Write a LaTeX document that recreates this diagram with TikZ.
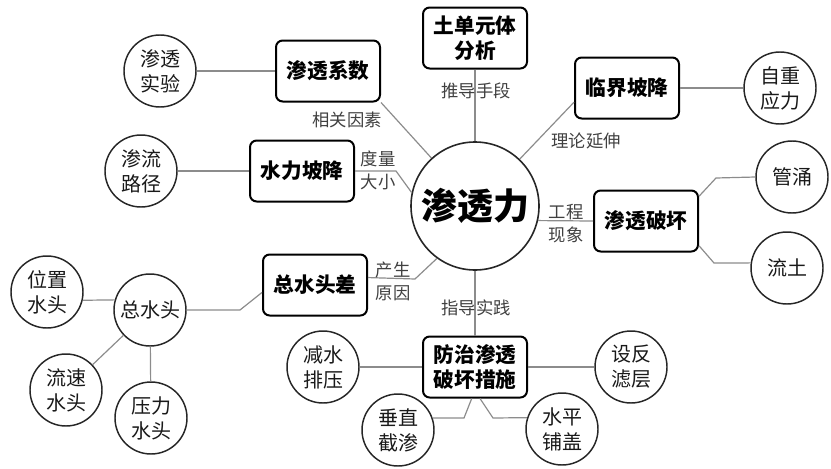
\documentclass[tikz,border=0pt]{standalone}
\usepackage{fontspec}
\setmainfont{Noto Sans CJK SC}
\begin{document}
\begin{tikzpicture}
  [x=0.75pt, y=-0.75pt,
   main node/.style={circle,draw=black!85,line width=1.2pt,minimum size=96pt,inner sep=0pt,font=\fontsize{27}{30}\selectfont\bfseries},
   box node/.style={rectangle,rounded corners=5pt,draw=black,line width=1.5pt,minimum width=78pt,minimum height=45.75pt,inner sep=0pt,align=center,font=\fontsize{15.5}{18.75}\selectfont\bfseries},
   leaf node/.style={circle,draw=black!85,line width=1.1pt,minimum size=54pt,inner sep=0pt,align=center,text=black!90,font=\fontsize{15}{18.75}\selectfont},
   link/.style={draw=black!45,line width=0.9pt},
   tag/.style={inner sep=0pt,align=center,text=black!75,font=\fontsize{13}{17.25}\selectfont}]
  \useasboundingbox (0,0) rectangle (831,468);

  % centre
  \node[main node] (stl) at (475,206) {渗透力};

  % first ring
  \node[box node] (tf) at (475,38) {土单元体\\分析};
  \node[box node] (xs) at (328,71) {渗透系数};
  \node[box node] (sl) at (302,171) {水力坡降};
  \node[box node] (lj) at (627,88) {临界坡降};
  \node[box node] (pf) at (646,221) {渗透破坏};
  \node[box node] (ct) at (315,285) {总水头差};
  \node[box node] (fz) at (475,367) {防治渗透\\破坏措施};

  % leaves
  \node[leaf node] (sy) at (160,71) {渗透\\实验};
  \node[leaf node] (lu) at (141,171) {渗流\\路径};
  \node[leaf node] (zz) at (780,88) {自重\\应力};
  \node[leaf node] (gy) at (792,177) {管涌};
  \node[leaf node] (lt) at (787,268) {流土};
  \node[leaf node] (zs) at (150,310) {总水头};
  \node[leaf node] (wz) at (47,292) {位置\\水头};
  \node[leaf node] (ls) at (66,390) {流速\\水头};
  \node[leaf node] (yl) at (151,418) {压力\\水头};
  \node[leaf node] (jp) at (323,367) {减水\\排压};
  \node[leaf node] (cz) at (398,430) {垂直\\截渗};
  \node[leaf node] (fl) at (631,367) {设反\\滤层};
  \node[leaf node] (pg) at (562,429) {水平\\铺盖};

  % bends
  \coordinate (k1) at (396,171);
  \coordinate (k2) at (716,178);
  \coordinate (k3) at (714,263);
  \coordinate (k4) at (415,279);
  \coordinate (k5) at (240,310);
  \coordinate (k6) at (464,418);
  \coordinate (k7) at (493,418);

  % straight links
  \path[] (sy) [link] edge (xs);
  \path[] (xs.south east) [link] edge (stl);
  \path[] (lu) [link] edge (sl);
  \path[] (tf) [link] edge (stl);
  \path[] (lj.195) [link] edge (stl);
  \path[] (lj) [link] edge (zz);
  \path[] (pf.west) [link] edge (stl.-13.5);
  \path[] (stl) [link] edge (fz);
  \path[] (jp) [link] edge (fz);
  \path[] (fz) [link] edge (fl);
  \path[] (wz.-13) [link] edge (zs.164);
  \path[] (zs) [link] edge (ls);
  \path[] (zs) [link] edge (yl);

  % bent links
  \draw[link] (sl.east) -- (k1) -- (stl.168);
  \draw[link] (pf.25) -- (k2) -- (gy.west);
  \draw[link] (pf.-25) -- (k3) -- (lt.172);
  \draw[link] (ct.8) -- (k4) -- (stl.234.6);
  \draw[link] (ct.188) -- (k5) -- (zs.east);
  \draw[link] (fz.264) -- (k6) -- (cz.19.5);
  \draw[link] (fz.279) -- (k7) -- (pg.162);

  % link labels
  \node[tag] (t1) at (347,120) {相关因素};
  \node[tag] (t2) at (378,170) {度量\\大小};
  \node[tag] (t3) at (476,91) {推导手段};
  \node[tag] (t4) at (586,141) {理论延伸};
  \node[tag] (t5) at (566,224) {工程\\现象};
  \node[tag] (t6) at (393,281) {产生\\原因};
  \node[tag] (t7) at (476,308) {指导实践};
\end{tikzpicture}
\end{document}
